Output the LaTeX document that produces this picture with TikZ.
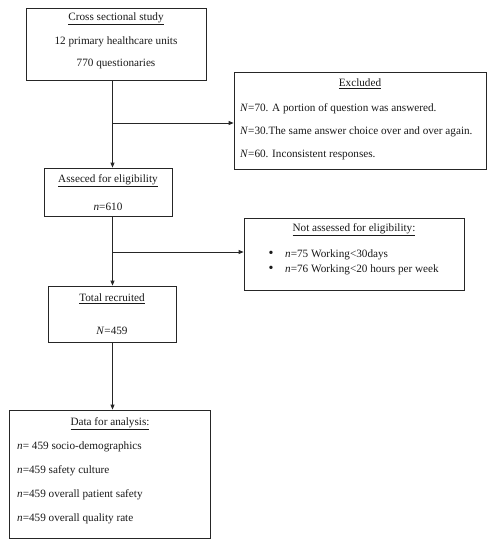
\documentclass[tikz,border=0pt]{standalone}
\usepackage{fontspec}
\setmainfont{Liberation Serif}
\usetikzlibrary{arrows.meta}
\begin{document}
\begin{tikzpicture}[x=1pt,y=-1pt,
  box/.style={draw=black!85,line width=0.8pt,rectangle,inner sep=0pt},
  txt/.style={inner sep=0pt,font=\fontsize{11.2}{13}\selectfont,text=black!90,yshift=-1.5pt},
  ltxt/.style={txt,anchor=west},
  arr/.style={draw=black!85,line width=0.8pt,-{Triangle[length=5pt,width=4pt]}},
  ln/.style={draw=black!85,line width=0.8pt}]
\useasboundingbox (0,0) rectangle (495,550);
% boxes
\node[box,minimum width=180pt,minimum height=72pt] (b1) at (116,44) {};
\node[box,minimum width=252pt,minimum height=97pt] (ex) at (360,120.5) {};
\node[box,minimum width=128pt,minimum height=48pt] (b2) at (108,192) {};
\node[box,minimum width=220pt,minimum height=72pt] (na) at (354,254) {};
\node[box,minimum width=128pt,minimum height=56pt] (b3) at (112,314) {};
\node[box,minimum width=201pt,minimum height=128pt] (b4) at (109.5,474) {};
% texts box1
\node[txt] (t11) at (116,17) {\underline{Cross sectional study}};
\node[txt] (t12) at (116,40) {12 primary healthcare units};
\node[txt] (t13) at (116,62) {770 questionaries};
% excluded
\node[txt] (te0) at (360,82) {\underline{Excluded}};
\node[ltxt] (te1) at (240,107) {\textit{N}=70. A portion of question was answered.};
\node[ltxt] (te2) at (240,130) {\textit{N}=30.The same answer choice over and over again.};
\node[ltxt] (te3) at (240,153) {\textit{N}=60. Inconsistent responses.};
% box2
\node[txt] (t21) at (108,179) {\underline{Asseced for eligibility}};
\node[txt] (t22) at (108,205) {\textit{n}=610};
% not assessed
\node[txt] (tn0) at (354,228) {\underline{Not assessed for eligibility:}};
\node[txt,font=\fontsize{14}{14}\selectfont] (bu1) at (271,253) {\textbullet};
\node[ltxt] (tn1) at (285,253) {\textit{n}=75 Working{\textless}30days};
\node[txt,font=\fontsize{14}{14}\selectfont] (bu2) at (271,268) {\textbullet};
\node[ltxt] (tn2) at (285,268) {\textit{n}=76 Working{\textless}20 hours per week};
% box3
\node[txt] (t31) at (112,297) {\underline{Total recruited}};
\node[txt] (t32) at (112,329) {\textit{N}=459};
% box4
\node[txt] (t40) at (110,422) {\underline{Data for analysis:}};
\node[ltxt] (t41) at (17,445) {\textit{n}= 459 socio-demographics};
\node[ltxt] (t42) at (17,469) {\textit{n}=459 safety culture};
\node[ltxt] (t43) at (17,493) {\textit{n}=459 overall patient safety};
\node[ltxt] (t44) at (17,517) {\textit{n}=459 overall quality rate};
% connectors
\coordinate (m) at (112.5,0);
\coordinate (j1) at (112.5,123);
\coordinate (j2) at (112.5,252);
\draw[arr] (m |- b1.south) -- (m |- b2.north);
\draw[arr] (j1) -- (j1 -| ex.west);
\draw[arr] (m |- b2.south) -- (m |- b3.north);
\draw[arr] (j2) -- (j2 -| na.west);
\draw[arr] (m |- b3.south) -- (m |- b4.north);
\end{tikzpicture}
\end{document}
